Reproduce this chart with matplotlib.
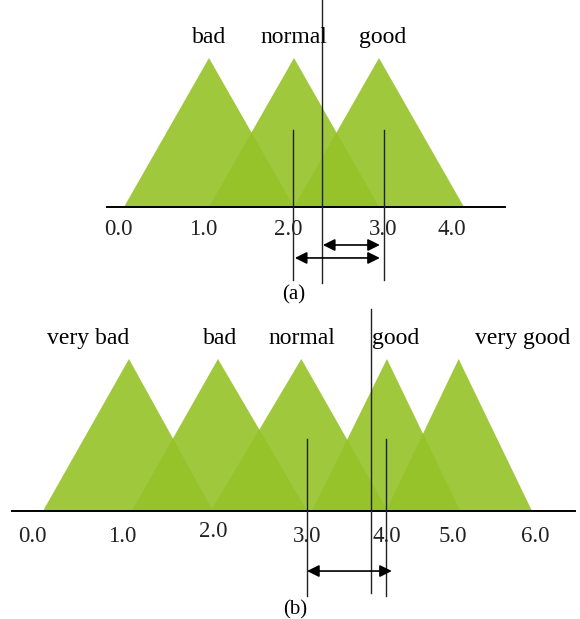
import matplotlib
matplotlib.use('Agg')
import matplotlib.pyplot as plt

plt.rcParams['font.family'] = ['Liberation Serif', 'DejaVu Serif']

# ---------------- panel (a) data ----------------
a_names = ['bad', 'normal', 'good']
a_left = [0.0, 1.0, 2.0]
a_peak = [1.0, 2.0, 3.0]
a_right = [2.0, 3.0, 4.0]
a_name_x = [1.0, 2.0, 3.04]
a_tick_pos = [-0.07, 0.93, 1.93, 3.05, 3.86]
a_tick_lab = ['0.0', '1.0', '2.0', '3.0', '4.0']
a_short_x = [1.99, 3.06]      # short vertical markers
a_cut_x = 2.33                # tall vertical line
a_arrows = [(2.34, 3.01, -0.255), (2.01, 3.01, -0.342)]

# ---------------- panel (b) data ----------------
b_names = ['very bad', 'bad', 'normal', 'good', 'very good']
b_left = [0.0, 1.09, 2.06, 3.30, 4.21]
b_peak = [1.055, 2.147, 3.17, 4.22, 5.10]
b_right = [2.086, 3.24, 4.23, 5.12, 6.0]
b_name_x = [0.55, 2.17, 3.18, 4.33, 5.88]
b_tick_pos = [-0.13, 0.97, 2.09, 3.24, 4.22, 5.03, 6.04]
b_tick_y = [-0.171, -0.171, -0.138, -0.171, -0.171, -0.171, -0.171]
b_tick_lab = ['0.0', '1.0', '2.0', '3.0', '4.0', '5.0', '6.0']
b_short_x = [3.24, 4.21]
b_cut_x = 4.02
b_arrows = [(3.24, 4.28, -0.395)]

green = '#95c228'
fs_lab = 17
fs_tick = 16.5

fig = plt.figure(figsize=(5.8, 6.19), dpi=100)
ax1 = fig.add_axes([0, 1 - 300 / 619, 1, 300 / 619])
ax2 = fig.add_axes([0, 0, 1, 319 / 619])


def draw_panel(ax, left, peak, right, names, name_x, name_y, ticks, tick_y, labels,
               short_x, short_y, cut_x, cut_y, arrows, axis_x, cap, cap_x, cap_y):
    for l, p, r in zip(left, peak, right):
        ax.fill([l, p, r], [0, 1, 0], color=green, alpha=0.9, lw=0)
    ax.plot(axis_x, [0, 0], color='black', lw=1.4)
    for nm, x in zip(names, name_x):
        ax.text(x, name_y, nm, ha='center', va='center', fontsize=fs_lab)
    for x, y, t in zip(ticks, tick_y, labels):
        ax.text(x, y, t, ha='center', va='center', fontsize=fs_tick, color='#222222')
    for x in short_x:
        ax.plot([x, x], short_y, color='#222222', lw=1.0)
    ax.plot([cut_x, cut_x], cut_y, color='#222222', lw=1.0)
    for x0, x1, y in arrows:
        ax.annotate('', xy=(x1, y), xytext=(x0, y),
                    arrowprops=dict(arrowstyle='<|-|>', color='black', lw=1.2,
                                    mutation_scale=18, shrinkA=0, shrinkB=0))
    ax.text(cap_x, cap_y, cap, ha='center', va='center', fontsize=15)
    ax.axis('off')


draw_panel(ax1, a_left, a_peak, a_right, a_names, a_name_x, 1.14,
           a_tick_pos, [-0.148] * 5, a_tick_lab,
           a_short_x, [0.517, -0.49], a_cut_x, [1.389, -0.51], a_arrows,
           [-0.2, 4.48], '(a)', 2.0, -0.59)
ax1.set_xlim(-124 / 85, (580 - 124) / 85)
ax1.set_ylim(-300 / 149 + 207 / 149, 207 / 149)

draw_panel(ax2, b_left, b_peak, b_right, b_names, b_name_x, 1.138,
           b_tick_pos, b_tick_y, b_tick_lab,
           b_short_x, [0.474, -0.559], b_cut_x, [1.329, -0.539], b_arrows,
           [-0.38, 6.53], '(b)', 3.09, -0.651)
ax2.set_xlim(-43 / 81.5, (580 - 43) / 81.5)
ax2.set_ylim((511 - 619) / 152, (511 - 300) / 152)

fig.savefig('out.png', dpi=100)
